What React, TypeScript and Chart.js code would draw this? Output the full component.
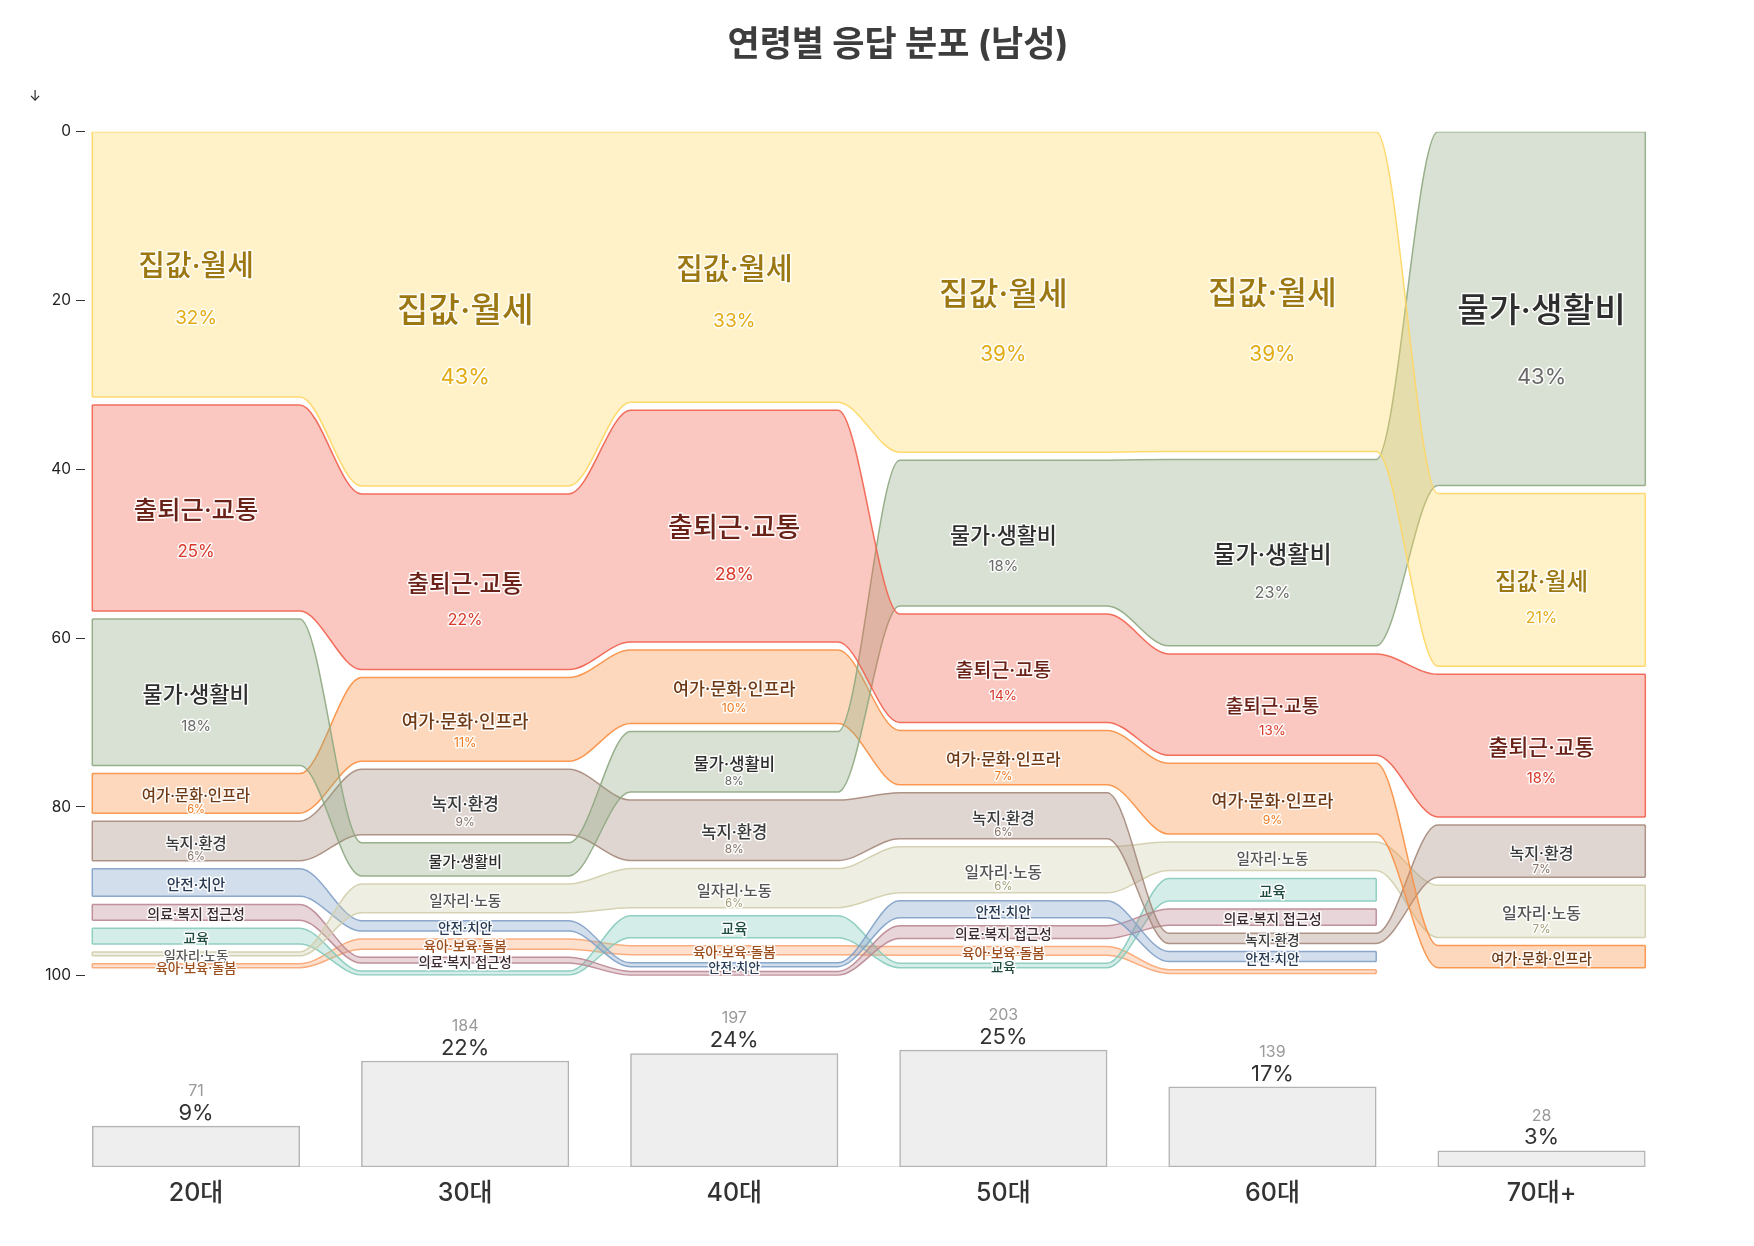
import { useEffect, useRef } from "react"
import { Chart, registerables } from "chart.js"

Chart.register(...registerables)

const AGES = ["20대", "30대", "40대", "50대", "60대", "70대+"]
const RESPONDENTS = [71, 184, 197, 203, 139, 28]

const CATEGORIES = [
  "집값·월세",
  "출퇴근·교통",
  "물가·생활비",
  "여가·문화·인프라",
  "녹지·환경",
  "일자리·노동",
  "안전·치안",
  "의료·복지 접근성",
  "교육",
  "육아·보육·돌봄",
]

// respondents per answer, by age group (20대 ... 70대+)
const HOUSING = [23, 79, 65, 79, 54, 6]
const COMMUTE = [18, 40, 56, 28, 18, 5]
const PRICES = [13, 9, 16, 37, 32, 12]
const LEISURE = [4, 20, 19, 15, 13, 1]
const GREEN = [4, 16, 16, 13, 3, 2]
const JOBS = [1, 8, 11, 13, 6, 2]
const SAFETY = [3, 4, 2, 6, 3, 0]
const HEALTH = [2, 3, 1, 5, 4, 0]
const EDUCATION = [2, 1, 7, 3, 5, 0]
const CHILDCARE = [1, 4, 4, 4, 1, 0]

const COUNTS = [HOUSING, COMMUTE, PRICES, LEISURE, GREEN, JOBS, SAFETY, HEALTH, EDUCATION, CHILDCARE]

const Y_TICKS = [0, 20, 40, 60, 80, 100]

const BASE_COLORS = ["#ffd662", "#f2604c", "#8fa882", "#f98f42", "#a6897c", "#d2ceac", "#81a0c8", "#ba8792", "#87cbbd", "#f9a673"]
const NAME_COLORS = ["#9c7812", "#6a2218", "#2e2e2e", "#6e3a16", "#3a3a3a", "#555555", "#283a52", "#3a2a2e", "#1e4a40", "#9c4d1c"]
const PCT_COLORS = ["#e2ac14", "#d8382a", "#6a6a6a", "#f07a1e", "#857368", "#a49e76", "#5a7ba6", "#9a6a74", "#4aa590", "#e38a4e"]

// Inter first so the middle dot and digits stay narrow; Hangul falls back to Noto CJK
const FONT = 'Inter, "Noto Sans CJK KR", sans-serif'
const COL_W = 0.7712 // column width, in column pitches
const X_PAD = 0.0271
const GAP = 0.95 // white gap under each band, in %
const MIN_T = 0.45

function alpha(hex: string, a: number) {
  const n = parseInt(hex.slice(1), 16)
  return `rgba(${(n >> 16) & 255}, ${(n >> 8) & 255}, ${n & 255}, ${a})`
}

interface Band {
  cat: number
  age: number
  top: number
  bottom: number
  pct: number
}

function layoutBands(): Band[] {
  const bands: Band[] = []
  AGES.forEach((_, a) => {
    const order = CATEGORIES.map((_, c) => c)
      .filter((c) => COUNTS[c][a] > 0)
      .sort((p, q) => COUNTS[q][a] - COUNTS[p][a] || p - q)
    let cum = 0
    for (const c of order) {
      const pct = (COUNTS[c][a] / RESPONDENTS[a]) * 100
      bands.push({ cat: c, age: a, top: cum, bottom: cum + Math.max(pct - GAP, MIN_T), pct })
      cum += pct
    }
  })
  return bands
}

function haloText(ctx: CanvasRenderingContext2D, text: string, x: number, y: number, color: string) {
  ctx.strokeStyle = "rgba(255,255,255,0.9)"
  ctx.lineWidth = 3
  ctx.lineJoin = "round"
  ctx.strokeText(text, x, y)
  ctx.fillStyle = color
  ctx.fillText(text, x, y)
}

export default function App() {
  const topRef = useRef<HTMLCanvasElement>(null)
  const bottomRef = useRef<HTMLCanvasElement>(null)

  useEffect(() => {
    if (!topRef.current || !bottomRef.current) return
    document.body.style.margin = "0"

    const bands = layoutBands()
    const xMin = -X_PAD
    const xMax = AGES.length - 1 + COL_W + X_PAD

    // ribbons: top edge, bottom edge (filled to top), and the two end caps
    const datasets: any[] = []
    CATEGORIES.forEach((_, c) => {
      const own = bands.filter((b) => b.cat === c).sort((p, q) => p.age - q.age)
      const common = {
        borderColor: alpha(BASE_COLORS[c], 0.9),
        borderWidth: 1.5,
        pointRadius: 0,
        pointHoverRadius: 0,
      }
      datasets.push({
        ...common,
        data: own.flatMap((b) => [{ x: b.age, y: b.top }, { x: b.age + COL_W, y: b.top }]),
        fill: false,
        cubicInterpolationMode: "monotone",
      })
      datasets.push({
        ...common,
        data: own.flatMap((b) => [{ x: b.age, y: b.bottom }, { x: b.age + COL_W, y: b.bottom }]),
        fill: "-1",
        backgroundColor: alpha(BASE_COLORS[c], 0.35),
        cubicInterpolationMode: "monotone",
      })
      const first = own[0]
      const last = own[own.length - 1]
      datasets.push({ ...common, data: [{ x: first.age, y: first.top }, { x: first.age, y: first.bottom }], fill: false })
      datasets.push({
        ...common,
        data: [{ x: last.age + COL_W, y: last.top }, { x: last.age + COL_W, y: last.bottom }],
        fill: false,
      })
    })

    const ribbonLabels = {
      id: "ribbonLabels",
      afterDatasetsDraw(chart: Chart) {
        const { ctx } = chart
        const x = chart.scales.x
        const y = chart.scales.y
        ctx.save()
        ctx.textAlign = "center"
        ctx.textBaseline = "middle"

        ctx.font = `bold 35px ${FONT}`
        ctx.fillStyle = "#3d3d3d"
        ctx.fillText("연령별 응답 분포 (남성)", 898, 45)

        ctx.font = `14px ${FONT}`
        ctx.fillStyle = "#222"
        ctx.fillText("↓", 35, 97)

        for (const b of bands) {
          if (b.pct < 1) continue
          const cx = x.getPixelForValue(b.age + COL_W / 2)
          const y0 = y.getPixelForValue(b.top)
          const y1 = y.getPixelForValue(b.bottom)
          const h = y1 - y0
          const cy = (y0 + y1) / 2 + 3
          const nameSize = 12.5 + 0.51 * b.pct
          ctx.font = `500 ${nameSize.toFixed(1)}px ${FONT}`
          haloText(ctx, CATEGORIES[b.cat], cx, cy, NAME_COLORS[b.cat])
          if (b.pct >= 5) {
            const pctSize = 9.5 + 0.29 * b.pct
            const off = 0.5 * nameSize + 0.5 * pctSize + 0.12 * h - 5
            ctx.font = `${pctSize.toFixed(1)}px ${FONT}`
            haloText(ctx, `${Math.round(b.pct)}%`, cx, cy + off, PCT_COLORS[b.cat])
          }
        }
        ctx.restore()
      },
    }

    const top = new Chart(topRef.current, {
      type: "line",
      data: { datasets },
      options: {
        animation: false,
        responsive: true,
        maintainAspectRatio: false,
        layout: { padding: { top: 131.7, bottom: 11, left: 0, right: 101.4 } },
        plugins: { legend: { display: false }, tooltip: { enabled: false }, title: { display: false } },
        scales: {
          x: { type: "linear", min: xMin, max: xMax, display: false },
          y: {
            type: "linear",
            reverse: true,
            min: 0,
            max: 100,
            afterBuildTicks: (s: any) => {
              s.ticks = Y_TICKS.map((v) => ({ value: v }))
            },
            afterFit: (s: any) => {
              s.width = 85
            },
            ticks: { font: { size: 15.5, family: FONT }, color: "#222", padding: 5 },
            grid: { drawOnChartArea: false, drawTicks: true, tickLength: 9, color: "#333", lineWidth: 1 },
            border: { display: false },
          },
        },
      },
      plugins: [ribbonLabels],
    })

    const barLabels = {
      id: "barLabels",
      afterDatasetsDraw(chart: Chart) {
        const { ctx } = chart
        const meta = chart.getDatasetMeta(0)
        const total = RESPONDENTS.reduce((s, v) => s + v, 0)
        ctx.save()
        ctx.textAlign = "center"
        ctx.textBaseline = "middle"
        meta.data.forEach((el: any, i: number) => {
          ctx.font = `22px ${FONT}`
          ctx.fillStyle = "#333"
          ctx.fillText(`${Math.round((RESPONDENTS[i] / total) * 100)}%`, el.x, el.y - 13)
          ctx.font = `16px ${FONT}`
          ctx.fillStyle = "#999"
          ctx.fillText(String(RESPONDENTS[i]), el.x, el.y - 35)
        })
        ctx.restore()
      },
    }

    const bottom = new Chart(bottomRef.current, {
      type: "bar",
      data: {
        datasets: [
          {
            type: "bar",
            data: RESPONDENTS.map((n, i) => ({ x: i + COL_W / 2, y: n })),
            backgroundColor: "#eeeeee",
            borderColor: "#b3b3b3",
            borderWidth: 1.5,
            borderSkipped: false,
            barThickness: 207.5,
            order: 1,
          },
          {
            type: "line",
            data: [{ x: 0, y: 0 }, { x: AGES.length - 1 + COL_W, y: 0 }],
            borderColor: "#d9d9d9",
            borderWidth: 1.5,
            pointRadius: 0,
            fill: false,
            order: 2,
          },
        ] as any,
      },
      options: {
        animation: false,
        responsive: true,
        maintainAspectRatio: false,
        layout: { padding: { top: 33, bottom: 0, left: 85, right: 101.4 } },
        plugins: { legend: { display: false }, tooltip: { enabled: false } },
        scales: {
          x: {
            type: "linear",
            min: xMin,
            max: xMax,
            offset: false,
            afterBuildTicks: (s: any) => {
              s.ticks = AGES.map((_, i) => ({ value: i + COL_W / 2 }))
            },
            afterFit: (s: any) => {
              s.height = 79
            },
            ticks: {
              callback: (_v: any, i: number) => AGES[i],
              font: { size: 25, weight: 500, family: FONT },
              color: "#333",
              padding: 11,
              autoSkip: false,
              maxRotation: 0,
            },
            grid: { display: false, drawTicks: false, offset: false },
            border: { display: false },
          },
          y: { min: 0, max: 250, display: false },
        },
      },
      plugins: [barLabels],
    })

    return () => {
      top.destroy()
      bottom.destroy()
    }
  }, [])

  return (
    <div style={{ position: "relative", width: 1754, height: 1246, background: "#fff" }}>
      <div style={{ position: "absolute", left: 0, top: 0, width: 1754, height: 990 }}>
        <canvas ref={topRef} />
      </div>
      <div style={{ position: "absolute", left: 0, top: 990, width: 1754, height: 256 }}>
        <canvas ref={bottomRef} />
      </div>
    </div>
  )
}
